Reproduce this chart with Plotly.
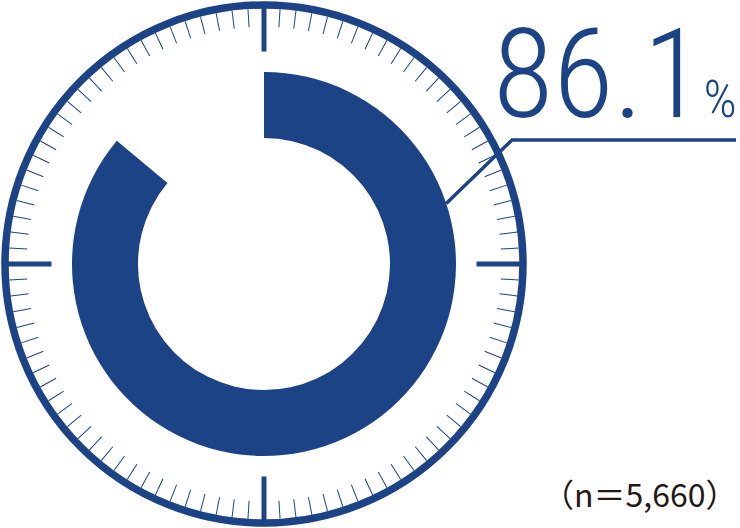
import math
import plotly.graph_objects as go

# ---- data ----
share_pct = [86.1]          # share shown in the ring (%)
sample_n = [5660]           # respondents
scale_max = [100]           # full scale of the dial (%)
minor_step = [1]            # one minor tick per percentage point
major_step = [25]           # one major tick per quarter

# ---- style ----
W, H = 740, 528
BLUE = "#1D4387"
CX, CY, R = 264, 264, 259          # dial centre and ring radius (px)
R_IN, R_OUT = 126, 192             # donut radii (px)

deg_per_pct = 360.0 / scale_max[0]

fig = go.Figure()

# donut arc as a polar bar
fig.add_trace(go.Barpolar(
    r=[R_OUT - R_IN], base=[R_IN],
    theta=[share_pct[0] * deg_per_pct / 2],
    width=[share_pct[0] * deg_per_pct],
    marker=dict(color=BLUE, line=dict(width=0)),
    subplot="polar", hoverinfo="skip", showlegend=False,
))
# carrier for the major-tick dial
fig.add_trace(go.Scatterpolar(r=[0], theta=[0], mode="none",
                              subplot="polar2", hoverinfo="skip", showlegend=False))

dom_x = [(CX - R) / W, (CX + R) / W]
dom_y = [(H - CY - R) / H, (H - CY + R) / H]

common_radial = dict(visible=False, range=[0, R], showgrid=False)

fig.update_layout(
    width=W, height=H, margin=dict(l=0, r=0, t=0, b=0),
    paper_bgcolor="white", plot_bgcolor="white",
    polar=dict(
        domain=dict(x=dom_x, y=dom_y), bgcolor="rgba(0,0,0,0)",
        radialaxis=common_radial,
        angularaxis=dict(
            rotation=90, direction="clockwise",
            tickmode="linear", tick0=0, dtick=minor_step[0] * deg_per_pct,
            ticks="inside", ticklen=18, tickwidth=1, tickcolor=BLUE,
            showticklabels=False, showgrid=False,
            showline=True, linewidth=7.5, linecolor=BLUE,
        ),
    ),
    polar2=dict(
        domain=dict(x=dom_x, y=dom_y), bgcolor="rgba(0,0,0,0)",
        radialaxis=common_radial,
        angularaxis=dict(
            rotation=90, direction="clockwise",
            tickmode="linear", tick0=0, dtick=major_step[0] * deg_per_pct,
            ticks="inside", ticklen=46, tickwidth=4.5, tickcolor=BLUE,
            showticklabels=False, showgrid=False, showline=False,
        ),
    ),
)

# leader line from the donut to the value label
ang = math.radians(71.6)
x0, y0 = CX + R_OUT * math.sin(ang), CY - R_OUT * math.cos(ang)
xe, ye = 512, 140
x1 = 736
def px(x): return x / W
def py(y): return 1 - y / H
fig.add_shape(type="path", xref="paper", yref="paper",
              path=f"M {px(x0)} {py(y0)} L {px(xe)} {py(ye)} L {px(x1)} {py(ye)}",
              line=dict(color=BLUE, width=3.5))

fig.add_annotation(
    xref="paper", yref="paper", x=px(739), y=py(149),
    xanchor="right", yanchor="bottom", showarrow=False,
    text=f"{share_pct[0]:.1f}<span style='font-size:52px'>%</span>",
    font=dict(family="Roboto Condensed, Roboto, sans-serif", size=124,
              color=BLUE, weight=300),
)
fig.add_annotation(
    xref="paper", yref="paper", x=px(739), y=py(518),
    xanchor="right", yanchor="bottom", showarrow=False,
    text=f"（n＝{sample_n[0]:,}）",
    font=dict(family="Noto Sans CJK JP, Noto Sans, sans-serif", size=32,
              color="#231815"),
)

fig.write_html("out.html", config={"displayModeBar": False},
               post_script="document.body.style.margin='0';document.body.style.overflow='hidden';")
